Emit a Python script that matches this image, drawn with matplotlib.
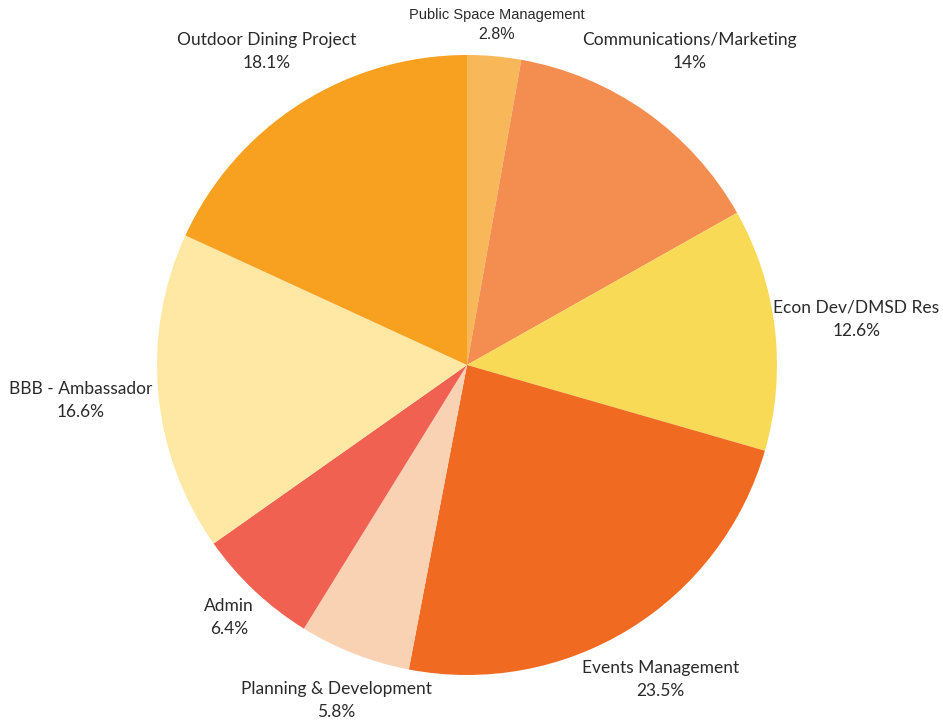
import matplotlib
matplotlib.use("Agg")
import matplotlib.pyplot as plt
import numpy as np

categories = ["Public Space Management", "Communications/Marketing", "Econ Dev/DMSD Res",
              "Events Management", "Planning & Development", "Admin",
              "BBB - Ambassador", "Outdoor Dining Project"]
values = [2.8, 14, 12.6, 23.5, 5.8, 6.4, 16.6, 18.1]
pct_labels = ["2.8%", "14%", "12.6%", "23.5%", "5.8%", "6.4%", "16.6%", "18.1%"]

colors = ["#F8B85A", "#F48E50", "#F9DA56", "#F06A21", "#F9D2B4", "#F06152", "#FEE8A3", "#F8A020"]
label_dist = [1.10, 1.24, 1.265, 1.19, 1.16, 1.12, 1.25, 1.20]

W, H = 943, 723
fig = plt.figure(figsize=(W / 100, H / 100), dpi=100)
ax = fig.add_axes([0, 0, 1, 1])
cx, cy = 467, 365

R = 310
wedges, _ = ax.pie(values, colors=colors, startangle=90, counterclock=False,
                   radius=R, wedgeprops=dict(linewidth=0), normalize=True)
ax.set_xlim(-cx, W - cx)
ax.set_ylim(-(H - cy), cy)
ax.set_aspect("equal")
ax.axis("off")

for i, w in enumerate(wedges):
    mid = np.deg2rad((w.theta1 + w.theta2) / 2)
    d = R * label_dist[i]
    x, y = d * np.cos(mid), d * np.sin(mid)
    if i == 0:
        ax.text(x, y + 10, categories[i], ha="center", va="center",
                fontsize=10.5, family=["Liberation Sans"], color="#2a2a2a")
        ax.text(x, y - 9, pct_labels[i], ha="center", va="center",
                fontsize=11.5, family=["Liberation Sans"], color="#2a2a2a")
    else:
        ax.text(x, y, categories[i] + "\n" + pct_labels[i], ha="center", va="center",
                fontsize=12.5, family=["Lato"], color="#2a2a2a", linespacing=1.55)

fig.savefig("out.png", dpi=100, facecolor="white")
